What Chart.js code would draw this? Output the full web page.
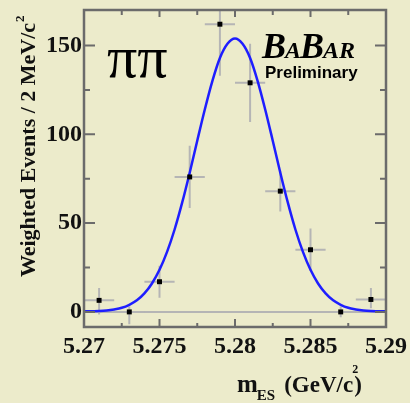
<!DOCTYPE html>
<html>
<head>
<meta charset="utf-8">
<script src="https://cdn.jsdelivr.net/npm/chart.js@4.4.0/dist/chart.umd.min.js"></script>
<style>
  html, body { margin: 0; padding: 0; background: #ecebcb; }
  #wrap { width: 410px; height: 403px; }
</style>
</head>
<body>
<div id="wrap"><canvas id="myChart" width="410" height="403"></canvas></div>
<script>
// measured points (2 MeV bins)
const binCenters = [5.271, 5.273, 5.275, 5.277, 5.279, 5.281, 5.283, 5.285, 5.287, 5.289];
const weightedEvents = [6.5, 0, 17, 76, 162, 129, 68, 35, 0, 7];
const errLow = [8, 7, 9, 17.5, 29, 22, 11.5, 12, 3, 5];
const errHigh = [7, 3, 9, 17.5, 29, 22, 11.5, 12, 3, 6.5];
const binHalfWidth = 0.001;

// fitted curve
const fitMass = [5.27, 5.2705, 5.271, 5.2715, 5.272, 5.2725, 5.273, 5.2735, 5.274, 5.2745,
  5.275, 5.2755, 5.276, 5.2765, 5.277, 5.2775, 5.278, 5.2785, 5.279, 5.2795,
  5.28, 5.2805, 5.281, 5.2815, 5.282, 5.2825, 5.283, 5.2835, 5.284, 5.2845,
  5.285, 5.2855, 5.286, 5.2865, 5.287, 5.2875, 5.288, 5.2885, 5.289, 5.2895, 5.29];
const fitValues = [0.3, 0.4, 0.5, 0.8, 1.4, 2.3, 4.0, 6.5, 10.4, 16,
  23.7, 33.8, 46.4, 61.5, 78.4, 96.4, 114, 130, 143, 151,
  154, 151, 143, 130, 114, 96.4, 78.4, 61.5, 46.4, 33.8,
  23.7, 16, 10.4, 6.5, 4.0, 2.3, 1.4, 0.8, 0.5, 0.4, 0.3];

// axis ticks
const xTickValues = [5.27, 5.2725, 5.275, 5.2775, 5.28, 5.2825, 5.285, 5.2875, 5.29];
const xTickLabels = ["5.27", "", "5.275", "", "5.28", "", "5.285", "", "5.29"];
const yTickValues = [0, 25, 50, 75, 100, 125, 150];
const yTickLabels = ["0", "", "50", "", "100", "", "150"];

const frameColor = "#6b6b6b";
const errColor = "#b5b5b5";

/*=============== ERROR BARS + ZERO LINE ===============*/
const errorBars = {
  id: "errorBars",
  beforeDatasetsDraw(chart) {
    const { ctx, chartArea, scales } = chart;
    ctx.save();
    ctx.beginPath();
    ctx.rect(chartArea.left, chartArea.top, chartArea.right - chartArea.left, chartArea.bottom - chartArea.top);
    ctx.clip();
    ctx.strokeStyle = errColor;
    ctx.lineWidth = 2;
    // zero line
    const y0 = scales.y.getPixelForValue(0);
    ctx.beginPath();
    ctx.moveTo(chartArea.left, y0);
    ctx.lineTo(chartArea.right, y0);
    ctx.stroke();
    binCenters.forEach((x, i) => {
      const px = scales.x.getPixelForValue(x);
      const py = scales.y.getPixelForValue(weightedEvents[i]);
      ctx.beginPath();
      ctx.moveTo(scales.x.getPixelForValue(x - binHalfWidth), py);
      ctx.lineTo(scales.x.getPixelForValue(x + binHalfWidth), py);
      ctx.moveTo(px, scales.y.getPixelForValue(weightedEvents[i] - errLow[i]));
      ctx.lineTo(px, scales.y.getPixelForValue(weightedEvents[i] + errHigh[i]));
      ctx.stroke();
    });
    ctx.restore();
  },
};

/*=============== FRAME, TICKS, TEXT ===============*/
const frameAndText = {
  id: "frameAndText",
  afterDraw(chart) {
    const { ctx, chartArea, scales } = chart;
    const { left, right, top, bottom } = chartArea;
    ctx.save();
    ctx.strokeStyle = frameColor;
    ctx.lineWidth = 2;
    // ticks
    ctx.beginPath();
    xTickValues.forEach((v, i) => {
      const px = scales.x.getPixelForValue(v);
      const major = xTickLabels[i] !== "";
      ctx.moveTo(px, bottom);
      ctx.lineTo(px, bottom - (major ? 8 : 4));
      ctx.moveTo(px, top);
      ctx.lineTo(px, top + (major ? 7 : 5));
    });
    yTickValues.forEach((v, i) => {
      const py = scales.y.getPixelForValue(v);
      const major = yTickLabels[i] !== "";
      ctx.moveTo(left, py);
      ctx.lineTo(left + (major ? 11 : 6), py);
      ctx.moveTo(right, py);
      ctx.lineTo(right - (major ? 11 : 6), py);
    });
    ctx.stroke();
    ctx.lineWidth = 2.5;
    ctx.strokeRect(left, top, right - left, bottom - top);

    // tick labels
    ctx.fillStyle = "#111";
    ctx.font = "bold 24px 'Liberation Serif'";
    ctx.textAlign = "center";
    ctx.textBaseline = "alphabetic";
    xTickValues.forEach((v, i) => {
      if (xTickLabels[i]) ctx.fillText(xTickLabels[i], scales.x.getPixelForValue(v), 353);
    });
    ctx.textAlign = "right";
    ctx.textBaseline = "middle";
    yTickValues.forEach((v, i) => {
      if (yTickLabels[i]) ctx.fillText(yTickLabels[i], 82, scales.y.getPixelForValue(v));
    });

    // y title
    ctx.textBaseline = "alphabetic";
    ctx.textAlign = "left";
    ctx.save();
    ctx.translate(35, 146);
    ctx.rotate(-Math.PI / 2);
    ctx.font = "bold 22px 'Liberation Serif'";
    const yMain = "Weighted Events / 2 MeV/c";
    const wMain = ctx.measureText(yMain).width;
    ctx.fillText(yMain, -wMain / 2 - 4, 0);
    ctx.font = "bold 13px 'Liberation Serif'";
    ctx.fillText("2", wMain / 2 - 3, -11);
    ctx.restore();

    // x title
    let tx = 237;
    ctx.font = "bold 25px 'Liberation Serif'";
    ctx.fillText("m", tx, 392);
    tx += ctx.measureText("m").width;
    ctx.font = "bold 15px 'Liberation Serif'";
    ctx.fillText("ES", tx - 1, 400);
    tx += ctx.measureText("ES").width + 8;
    ctx.font = "bold 23px 'Liberation Serif'";
    ctx.fillText("(GeV/c", tx, 392);
    tx += ctx.measureText("(GeV/c").width;
    ctx.font = "bold 12px 'Liberation Serif'";
    ctx.fillText("2", tx - 1, 373);
    ctx.font = "bold 23px 'Liberation Serif'";
    ctx.fillText(")", tx + 1, 392);

    // pi pi
    ctx.fillStyle = "#000";
    ctx.font = "60px 'Liberation Serif'";
    ctx.fillText("\u03c0\u03c0", 107, 77);

    // BaBar logo
    let bx = 262;
    const big = "bold italic 36px 'Liberation Serif'";
    const small = "bold italic 24px 'Liberation Serif'";
    [["B", big], ["A", small], ["B", big], ["AR", small]].forEach(([s, f]) => {
      ctx.font = f;
      ctx.fillText(s, bx, 58);
      bx += ctx.measureText(s).width - 1;
    });
    ctx.font = "bold 17px 'Liberation Sans'";
    ctx.fillText("Preliminary", 265, 78);
    ctx.restore();
  },
};

const ctx = document.getElementById("myChart").getContext("2d");
const chart = new Chart(ctx, {
  type: "scatter",
  data: {
    datasets: [
      {
        label: "Fit",
        type: "line",
        data: fitMass.map((x, i) => ({ x: x, y: fitValues[i] })),
        borderColor: "#1e1eff",
        borderWidth: 2.5,
        pointRadius: 0,
        cubicInterpolationMode: "monotone",
        fill: false,
        order: 1,
      },
      {
        label: "Data",
        data: binCenters.map((x, i) => ({ x: x, y: weightedEvents[i] })),
        pointStyle: "rect",
        pointRadius: 3.5,
        backgroundColor: "#000",
        borderColor: "#000",
        borderWidth: 0,
        order: 0,
      },
    ],
  },
  options: {
    responsive: false,
    animation: false,
    events: [],
    layout: { padding: { left: 84, right: 24, top: 10, bottom: 76 } },
    plugins: {
      legend: { display: false },
      tooltip: { enabled: false },
    },
    scales: {
      x: { type: "linear", min: 5.27, max: 5.29, display: false },
      y: { type: "linear", min: -8.5, max: 170, display: false },
    },
  },
  plugins: [errorBars, frameAndText],
});
</script>
</body>
</html>
